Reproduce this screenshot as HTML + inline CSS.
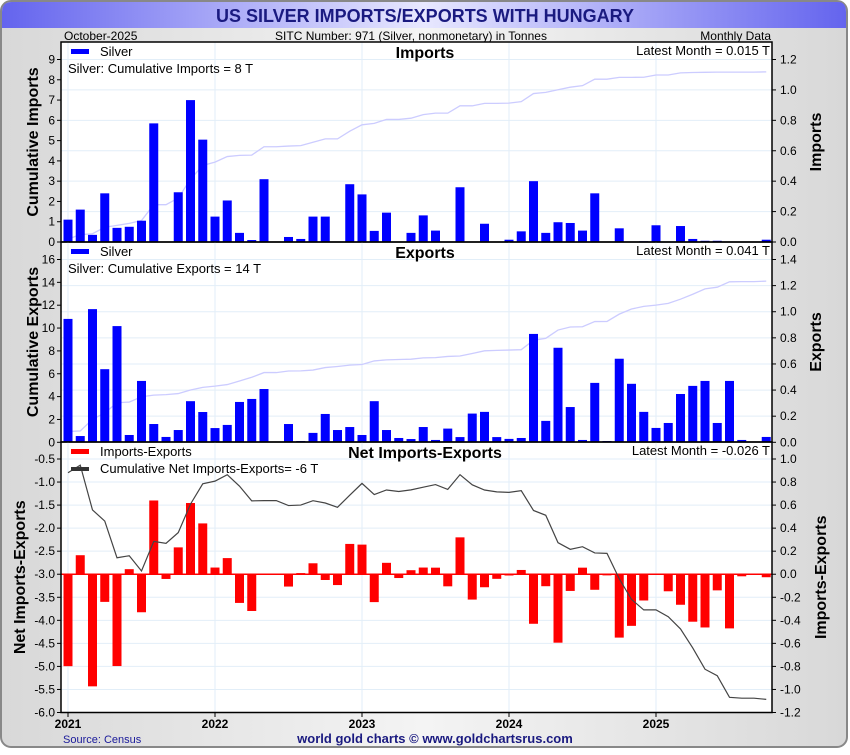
<!DOCTYPE html>
<html><head><meta charset="utf-8">
<style>
body{margin:0;width:850px;height:750px;overflow:hidden;background:#fff;font-family:"Liberation Sans",sans-serif}
</style></head>
<body>
<svg id="chart" width="850" height="750" xmlns="http://www.w3.org/2000/svg" font-family="Liberation Sans, sans-serif">
<defs>
<linearGradient id="tg" x1="0" x2="1" y1="0" y2="0"><stop offset="0" stop-color="#6464ee"/><stop offset="0.5" stop-color="#e8e8ff"/><stop offset="1" stop-color="#6464ee"/></linearGradient>
<linearGradient id="bg" x1="0" x2="1" y1="0" y2="0"><stop offset="0" stop-color="#d8d8d8"/><stop offset="0.5" stop-color="#f4f4f4"/><stop offset="1" stop-color="#d8d8d8"/></linearGradient>
</defs>
<rect x="1" y="1" width="846" height="746" rx="10" fill="url(#bg)" stroke="#888" stroke-width="2"/>
<path d="M2,28 L2,12 Q2,2 12,2 L838,2 Q846,2 846,12 L846,28 Z" fill="url(#tg)"/>
<text x="425" y="22" text-anchor="middle" font-size="18" font-weight="bold" fill="#1a1a80">US SILVER IMPORTS/EXPORTS WITH HUNGARY</text>
<text x="64" y="40" font-size="12" fill="#000">October-2025</text>
<text x="411" y="40" font-size="12" text-anchor="middle" fill="#000">SITC Number: 971 (Silver, nonmonetary) in Tonnes</text>
<text x="771" y="40" font-size="12" text-anchor="end" fill="#000">Monthly Data</text>
<rect x="61" y="42" width="711" height="671" fill="#fff"/>
<g id="layer"></g>
<text x="63" y="743" font-size="11" fill="#1a1a9a">Source: Census</text>
<text x="435" y="743" font-size="13" font-weight="bold" text-anchor="middle" fill="#1a1a80">world gold charts © www.goldchartsrus.com</text>
</svg>
<script>
const months = ["2021-01","2021-02","2021-03","2021-04","2021-05","2021-06","2021-07","2021-08","2021-09","2021-10","2021-11","2021-12","2022-01","2022-02","2022-03","2022-04","2022-05","2022-06","2022-07","2022-08","2022-09","2022-10","2022-11","2022-12","2023-01","2023-02","2023-03","2023-04","2023-05","2023-06","2023-07","2023-08","2023-09","2023-10","2023-11","2023-12","2024-01","2024-02","2024-03","2024-04","2024-05","2024-06","2024-07","2024-08","2024-09","2024-10","2024-11","2024-12","2025-01","2025-02","2025-03","2025-04","2025-05","2025-06","2025-07","2025-08","2025-09","2025-10"];
const imports = [0.147,0.213,0.047,0.32,0.093,0.1,0.14,0.78,0,0.327,0.933,0.673,0.167,0.273,0.06,0.013,0.413,0,0.033,0.02,0.167,0.167,0,0.38,0.313,0.073,0.193,0,0.06,0.175,0.075,0,0.36,0,0.12,0,0.015,0.07,0.4,0.06,0.13,0.125,0.075,0.32,0,0.09,0,0.005,0.11,0,0.105,0.02,0.008,0.008,0,0,0,0.015];
const exports_ = [0.945,0.048,1.02,0.56,0.89,0.056,0.47,0.14,0.041,0.094,0.315,0.232,0.109,0.133,0.309,0.332,0.408,0,0.14,0.01,0.072,0.217,0.094,0.117,0.056,0.315,0.094,0.033,0.025,0.117,0.018,0.105,0.04,0.22,0.233,0.04,0.026,0.033,0.83,0.164,0.724,0.27,0.018,0.455,0.01,0.64,0.448,0.233,0.11,0.148,0.37,0.432,0.47,0.148,0.47,0.018,0,0.041];
const yearLabels = ["2021","2022","2023","2024","2025"];
const impLeftTicks = [0,1,2,3,4,5,6,7,8,9];
const impRightTicks = [0,0.2,0.4,0.6,0.8,1.0,1.2];
const expLeftTicks = [0,2,4,6,8,10,12,14,16];
const expRightTicks = [0,0.2,0.4,0.6,0.8,1.0,1.2,1.4];
const netLeftTicks = [-0.5,-1,-1.5,-2,-2.5,-3,-3.5,-4,-4.5,-5,-5.5,-6];
const netRightTicks = [1,0.8,0.6,0.4,0.2,0,-0.2,-0.4,-0.6,-0.8,-1,-1.2];

const NS="http://www.w3.org/2000/svg";
const layer=document.getElementById('layer');
function mk(tag,attrs,parent){const e=document.createElementNS(NS,tag);for(const k in attrs)e.setAttribute(k,attrs[k]);(parent||layer).appendChild(e);return e;}
const X0=68, MW=12.25;
const xOf=i=>X0+i*MW;
const xYear=k=>X0+k*12*MW;
function lin(d0,d1,p0,p1){return v=>p0+(v-d0)*(p1-p0)/(d1-d0);}
function cumsum(a){let s=0;return a.map(v=>s+=v);}
const net=imports.map((v,i)=>v-exports_[i]);

function panel(o){
  const g=mk('g',{});
  
  
  // grid
  o.gridTicks.forEach(t=>{const y=o.yR(t);if(y>o.top+1&&y<o.bot-1){const l=mk('line',{x1:61,x2:772,y1:y,y2:y,stroke:'#e2eef8','stroke-width':1},g);}});
  yearLabels.forEach((y,k)=>{const l=mk('line',{x1:xYear(k),x2:xYear(k),y1:o.top,y2:o.bot,stroke:'#e2eef8','stroke-width':1},g);});
  // cumulative line
  const cum=cumsum(o.vals);
  const pts=cum.map((v,i)=>xOf(i)+','+o.yL(v)).join(' ');
  const cl=mk('polyline',{points:pts,fill:'none',stroke:o.lineColor,'stroke-width':o.lineW},g);
  
  
  // bars
  const zero=o.yR(0);
  o.vals.forEach((v,i)=>{if(v===0)return;const y=o.yR(v);const r=mk('rect',{x:xOf(i)-4.5,y:Math.min(y,zero),width:9,height:Math.max(Math.abs(zero-y),0.8),fill:o.barColor},g);
    
    });
  if(o.zeroLine){const z=mk('line',{x1:61,x2:772,y1:zero,y2:zero,stroke:'#f00','stroke-width':1.5},g);}
  if(o.drawLineOnTop){g.appendChild(cl);}
  // frame
  const f=mk('rect',{x:61,y:o.top,width:711,height:o.bot-o.top,fill:'none',stroke:'#000','stroke-width':1.5},g);
  
  // left ticks
  o.leftTicks.forEach(t=>{const y=o.yL(t);mk('line',{x1:57,x2:61,y1:y,y2:y,stroke:'#000'},g);const tx=mk('text',{x:55,y:y+4,'font-size':12,'text-anchor':'end',fill:'#000'},g);tx.textContent=o.fmtL(t);
    });
  o.rightTicks.forEach(t=>{const y=o.yR(t);mk('line',{x1:772,x2:776,y1:y,y2:y,stroke:'#000'},g);const tx=mk('text',{x:780,y:y+4,'font-size':12,fill:'#000'},g);tx.textContent=t.toFixed(1);
    });
  const cy=(o.top+o.bot)/2;
  const lt=mk('text',{x:0,y:0,'font-size':16,'font-weight':'bold','text-anchor':'middle',transform:`translate(${o.ltx},${cy}) rotate(-90)`},g);lt.textContent=o.leftTitle;
  
  const rt=mk('text',{x:0,y:0,'font-size':16,'font-weight':'bold','text-anchor':'middle',transform:`translate(${o.rtx},${cy}) rotate(-90)`},g);rt.textContent=o.rightTitle;
  
  const pt=mk('text',{x:425,y:o.top+16,'font-size':16,'font-weight':'bold','text-anchor':'middle'},g);pt.textContent=o.title;
  
  const lm=mk('text',{x:770,y:o.top+13,'font-size':13,'text-anchor':'end'},g);lm.textContent='Latest Month = '+o.latest+' T';
  
  const lr=mk('rect',{x:71,y:o.top+7,width:18,height:5,fill:o.barColor},g);
  
  const l1=mk('text',{x:100,y:o.top+14,'font-size':13},g);l1.textContent=o.legend1;
  
  if(o.legendLine){const ll=mk('rect',{x:71,y:o.top+25,width:18,height:4,fill:'#333'},g);}
  const l2=mk('text',{x:o.legendLine?100:68,y:o.top+31,'font-size':13},g);l2.textContent=o.legend2;
  
}
const imp={name:'imports',top:42,bot:242,vals:imports,
  yL:lin(0,9,242,59.5),yR:lin(0,1.2,242,59.5),leftTicks:impLeftTicks,rightTicks:impRightTicks,gridTicks:impRightTicks,
  fmtL:t=>String(t),barColor:'#0000ff',lineColor:'#ccccff',lineW:1.3,ltx:38,rtx:821,leftTitle:'Cumulative Imports',rightTitle:'Imports',
  title:'Imports',latest:'0.015',legend1:'Silver',legend2:'Silver: Cumulative Imports = 8 T'};
panel(imp);
panel({name:'exports',top:242,bot:442,vals:exports_,
  yL:lin(0,16,442.3,259.5),yR:lin(0,1.4,442.3,259.5),leftTicks:expLeftTicks,rightTicks:expRightTicks,gridTicks:expRightTicks,
  fmtL:t=>String(t),barColor:'#0000ff',lineColor:'#ccccff',lineW:1.3,ltx:38,rtx:821,leftTitle:'Cumulative Exports',rightTitle:'Exports',
  title:'Exports',latest:'0.041',legend1:'Silver',legend2:'Silver: Cumulative Exports = 14 T'});
panel({name:'net',top:442,bot:712.5,vals:net,
  yL:lin(-0.5,-6,459,712.5),yR:lin(1,-1.2,459,712.5),leftTicks:netLeftTicks,rightTicks:netRightTicks,gridTicks:netRightTicks,
  fmtL:t=>t.toFixed(1),barColor:'#ff0000',lineColor:'#444',lineW:1.2,ltx:25,rtx:826,leftTitle:'Net Imports-Exports',rightTitle:'Imports-Exports',
  title:'Net Imports-Exports',latest:'-0.026',legend1:'Imports-Exports',legend2:'Cumulative Net Imports-Exports= -6 T',legendLine:true,zeroLine:true,drawLineOnTop:true});
yearLabels.forEach((y,k)=>{mk('line',{x1:xYear(k),x2:xYear(k),y1:712,y2:717,stroke:'#000'});const t=mk('text',{x:xYear(k),y:728,'font-size':12,'font-weight':'bold','text-anchor':'middle'});t.textContent=y;
  });
</script>
</body></html>
